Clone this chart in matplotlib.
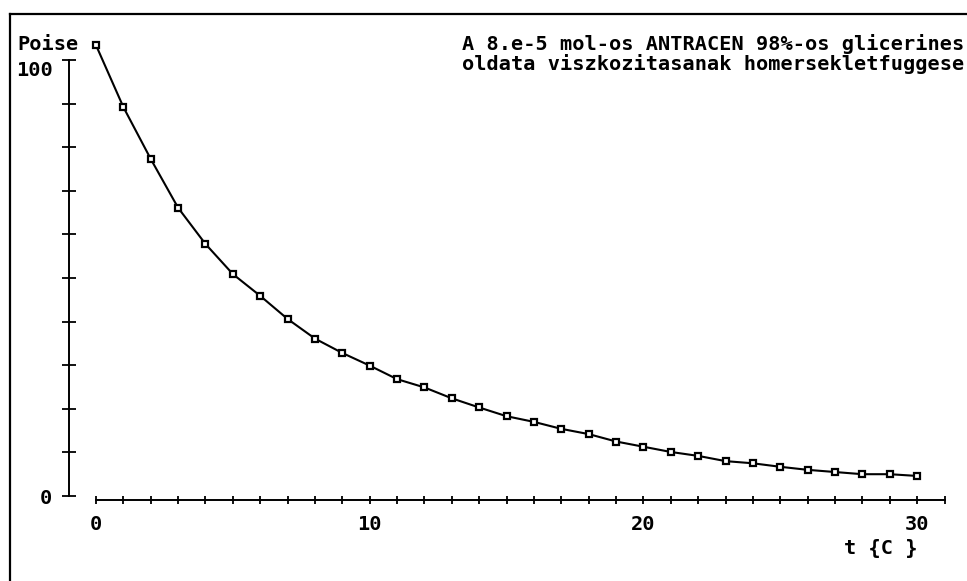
import matplotlib.pyplot as plt
from matplotlib.lines import Line2D

# homerseklet (C) es viszkozitas (Poise)
homerseklet = list(range(0, 31))
viszkozitas = [103.4, 89.2, 77.3, 66.1, 57.8, 50.9, 45.9, 40.6, 36.1, 32.8,
               29.9, 26.8, 24.9, 22.4, 20.3, 18.3, 17.0, 15.4, 14.2, 12.5,
               11.3, 10.1, 9.2, 8.0, 7.5, 6.7, 6.0, 5.5, 5.0, 5.0, 4.6]

x_ticks = list(range(0, 32))
x_labels = ['0', '10', '20', '30']
y_ticks = list(range(0, 101, 10))

cim = ['A 8.e-5 mol-os ANTRACEN 98%-os glicerines',
       'oldata viszkozitasanak homersekletfuggese']

font = dict(family='DejaVu Sans Mono', weight='bold', size=14.6, color='black')

W, H = 967, 581
fig = plt.figure(figsize=(W / 100, H / 100), dpi=100)

# keret (csak bal es felso el latszik)
fig.add_artist(Line2D([10 / W, 10 / W], [1 - 14 / H, -0.1], color='black', lw=1.6))
fig.add_artist(Line2D([10 / W, 1.1], [1 - 14 / H, 1 - 14 / H], color='black', lw=1.6))

ax = fig.add_axes([96 / W, (H - 496) / H, (944.5 - 96) / W, 105 * 4.36 / H])
ax.set_xlim(0, 31)
ax.set_ylim(0, 105)

ax.plot(homerseklet, viszkozitas, color='black', lw=1.5, clip_on=False,
        marker='s', markersize=4.6, mfc='white', mec='black', mew=1.6)

for s in ['top', 'right']:
    ax.spines[s].set_visible(False)
ax.spines['left'].set_position(('outward', 27 * 0.72))
ax.spines['bottom'].set_position(('outward', 4 * 0.72))
ax.spines['left'].set_bounds(0, 100)
ax.spines['bottom'].set_bounds(0, 31)
ax.spines['left'].set_linewidth(1.4)
ax.spines['bottom'].set_linewidth(1.4)

ax.set_xticks(x_ticks)
ax.set_xticklabels([str(t) if str(t) in x_labels else '' for t in x_ticks], **font)
ax.tick_params(axis='x', direction='inout', length=6, width=1.3, pad=7.5)

ax.set_yticks(y_ticks)
ax.set_yticklabels([])
ax.tick_params(axis='y', direction='inout', length=10, width=1.3)

# y tengely feliratai
ax.annotate('0', xy=(0, 0), xycoords=('axes fraction', 'data'),
            xytext=(-44, -2), textcoords='offset pixels', ha='right', va='center', **font)
ax.annotate('100', xy=(0, 100), xycoords=('axes fraction', 'data'),
            xytext=(-43, -10), textcoords='offset pixels', ha='right', va='center', **font)

fig.text(17 / W, 1 - 45 / H, 'Poise', ha='left', va='center', **font)
fig.text(917 / W, 1 - 548 / H, 't {C }', ha='right', va='center', **font)

fig.text(964 / W, 1 - 44 / H, cim[0], ha='right', va='center', **font)
fig.text(964 / W, 1 - 64 / H, cim[1], ha='right', va='center', **font)

fig.savefig('out.png', dpi=100)
